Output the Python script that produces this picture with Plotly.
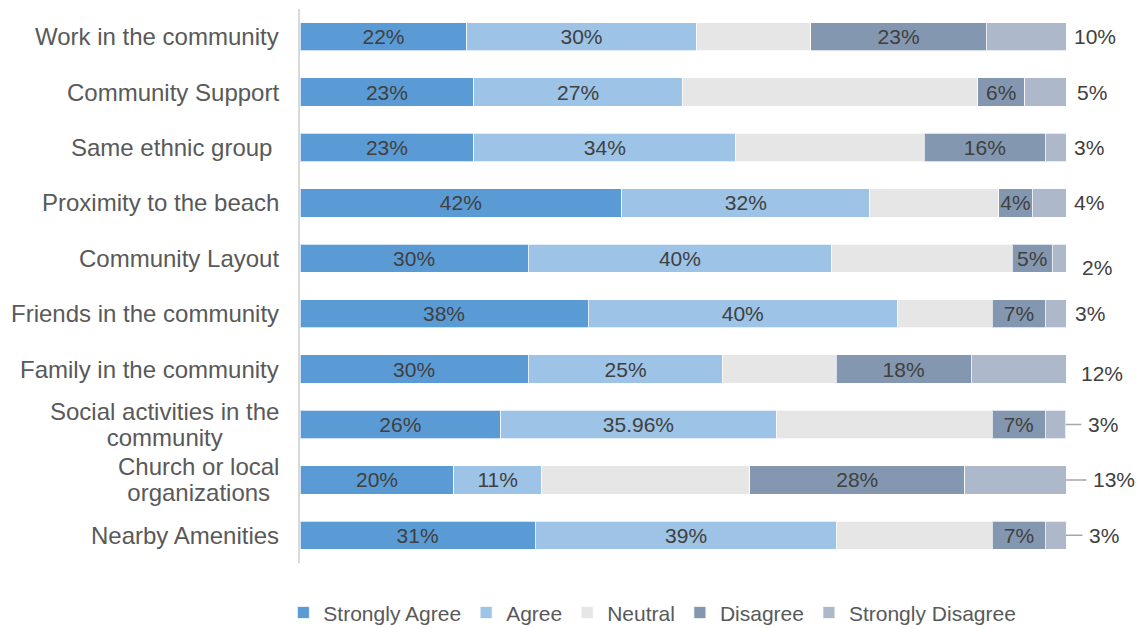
import plotly.graph_objects as go

categories = ["Work in the community", "Community Support", "Same ethnic group\u00a0",
              "Proximity to the beach", "Community Layout", "Friends in the community",
              "Family in the community", "Social activities in the community",
              "Church or local organizations", "Nearby Amenities"]
tick_labels = ["Work in the community", "Community Support", "Same ethnic group\u00a0",
               "Proximity to the beach", "Community Layout", "Friends in the community",
               "Family in the community", "Social activities in the<br>community",
               "Church or local<br>organizations", "Nearby Amenities"]

strongly_agree = [21.8, 22.7, 22.7, 42.0, 29.8, 37.6, 29.8, 26.2, 20.1, 30.7]
agree = [29.9, 27.2, 34.2, 32.4, 39.6, 40.4, 25.4, 35.96, 11.4, 39.4]
neutral = [15.0, 38.6, 24.6, 16.8, 23.6, 12.4, 14.8, 28.2, 27.2, 20.3]
disagree = [22.9, 6.1, 15.8, 4.4, 5.2, 6.9, 17.6, 6.9, 28.1, 6.9]
strongly_disagree = [10.4, 5.4, 2.7, 4.4, 1.8, 2.7, 12.4, 2.7, 13.2, 2.7]

series = [
    ("Strongly Agree", strongly_agree, "#5B9BD5", True),
    ("Agree", agree, "#9DC3E6", True),
    ("Neutral", neutral, "#E7E6E6", False),
    ("Disagree", disagree, "#8497B0", True),
    ("Strongly Disagree", strongly_disagree, "#ADB9CA", False),
]

# style: outside label placement for Strongly Disagree (pixel offsets)
sd_xshift = [6, 9, 6, 6, 14, 7, 13, 0, 0, 0]
sd_yshift = [0, 0, 0, 0, -9, 0, -4, 0, 0, 0]
sd_leader = [False, False, False, False, False, False, False, True, True, True]
sd_leader_ax = [0, 0, 0, 0, 0, 0, 0, 37, 48, 38]
FONT = "Liberation Sans, Arial"
LABEL_SIZE = 24


def fmt(v):
    if round(v, 2) != round(v, 1):
        return f"{v:g}%"
    return f"{v:.0f}%"


def label_html(s):
    # tighter line spacing: base font 20 (1.3em = 26px), glyphs drawn at 24px
    return "<br>".join(f"<span style='font-size:{LABEL_SIZE}px'>{p}</span>"
                       for p in s.split("<br>"))


fig = go.Figure()
for name, vals, color, show_text in series:
    fig.add_trace(go.Bar(
        y=categories, x=vals, name=name, orientation="h",
        marker=dict(color=color, line=dict(color="rgba(255,255,255,0.7)", width=1)),
        text=[fmt(v) for v in vals] if show_text else None,
        textposition="inside" if show_text else "none",
        insidetextanchor="middle", textangle=0,
        textfont=dict(color="#404040", size=21, family=FONT),
        hoverinfo="skip",
    ))

totals = [round(a + b + c + d + e, 6) for a, b, c, d, e in
          zip(strongly_agree, agree, neutral, disagree, strongly_disagree)]
totals = [min(t, 100) for t in totals]

annotations = []
for i, cat in enumerate(categories):
    multi = "<br>" in tick_labels[i]
    annotations.append(dict(
        xref="paper", x=0, yref="y", y=cat, xanchor="right", yanchor="middle",
        xshift=-19, text=label_html(tick_labels[i]) if multi else tick_labels[i],
        align="center", showarrow=False,
        font=dict(size=20 if multi else LABEL_SIZE, color="#595959", family=FONT)))
    if sd_leader[i]:
        annotations.append(dict(
            xref="x", x=totals[i], yref="y", y=cat, text=fmt(strongly_disagree[i]),
            showarrow=True, arrowhead=0, arrowwidth=1.5, arrowcolor="#A6A6A6",
            ax=sd_leader_ax[i], ay=0, standoff=0, borderpad=6,
            font=dict(size=21, color="#404040", family=FONT)))
    else:
        annotations.append(dict(
            xref="x", x=totals[i], yref="y", y=cat, text=fmt(strongly_disagree[i]),
            showarrow=False, xanchor="left", xshift=sd_xshift[i], yshift=sd_yshift[i],
            font=dict(size=21, color="#404040", family=FONT)))

fig.update_layout(
    barmode="stack", bargap=0.49,
    width=1138, height=628,
    margin=dict(l=300, r=72, t=9, b=65, autoexpand=False),
    plot_bgcolor="white", paper_bgcolor="white",
    font=dict(family=FONT, color="#595959"),
    uniformtext=dict(minsize=21, mode="show"),
    legend=dict(orientation="h", x=0.46, xanchor="center", y=-0.09, yanchor="middle",
                font=dict(size=21, color="#595959"), traceorder="normal",
                itemwidth=30),
    annotations=annotations,
    xaxis=dict(range=[0, 100], visible=False, fixedrange=True),
    yaxis=dict(type="category", categoryorder="array", categoryarray=categories,
               range=[9.5, -0.5], showticklabels=False, ticks="",
               showline=True, linecolor="#D9D9D9", linewidth=1.5,
               showgrid=False, zeroline=False),
)

fig.write_html("out.html")
